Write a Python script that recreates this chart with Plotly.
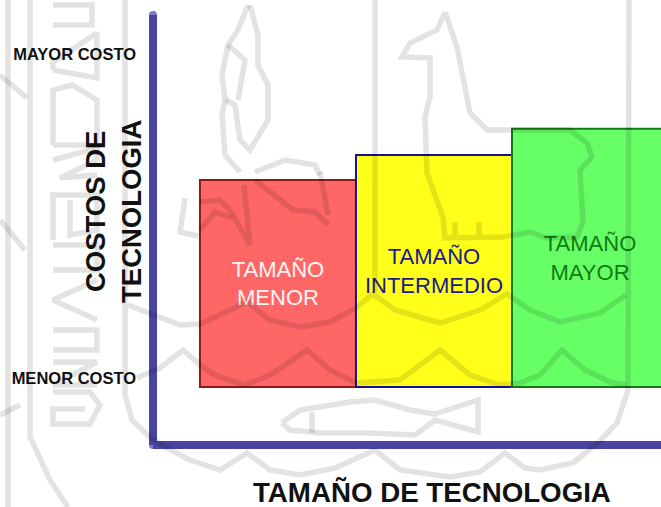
import plotly.graph_objects as go

# bars
bar_pos = [1, 2, 3]
bar_base = [-0.028, -0.028, -0.028]
bar_top = [0.611, 0.688, 0.769]
bar_labels = ["TAMAÑO<br>MENOR", "TAMAÑO<br>INTERMEDIO", "TAMAÑO<br>MAYOR"]
bar_colors = ["#ff6666", "#ffff19", "#66ff66"]
bar_edges = ["#8c1a1a", "#14148c", "#157a15"]
label_colors = ["#fff5f5", "#1a1a8c", "#127a12"]

cost_ticks = [0, 1]
cost_labels = ["MENOR COSTO", "MAYOR COSTO"]

# axis arms, in page pixels (overlay axes)
arm_x = [153, 153, None, 153, 661]
arm_y = [15, 445, None, 445, 445]

# faint crest behind the chart, traced by hand in page pixels
crest = [
    # frame
    [(8, 0), (8, 507)],
    [(30, 0), (30, 437), (50, 480), (68, 507)],
    [(125, 0), (125, 395), (132, 420), (150, 437), (165, 447), (190, 460), (220, 470), (247, 453),
     (270, 470), (300, 475), (335, 468), (375, 450), (400, 470), (450, 477), (480, 472), (505, 453),
     (525, 468), (540, 470), (573, 463), (598, 443), (617, 423), (628, 390), (629, 0)],
    [(375, 0), (375, 292)],
    [(0, 75), (27, 98)],
    [(0, 220), (25, 250)],
    [(0, 415), (20, 405)],
    # waves
    [(128, 305), (150, 313), (180, 325), (200, 324), (225, 312), (247, 302), (270, 320), (300, 327),
     (330, 322), (356, 308), (373, 294), (395, 310), (440, 323), (480, 310), (507, 294), (530, 310),
     (560, 322), (600, 313), (626, 295)],
    [(137, 378), (160, 368), (183, 350), (200, 365), (215, 375), (245, 385), (270, 375), (307, 350),
     (330, 370), (356, 383), (400, 380), (440, 350), (470, 375), (500, 385), (520, 383), (540, 375),
     (562, 350), (585, 370), (610, 382), (626, 385)],
    # fish
    [(282, 423), (300, 410), (350, 402), (375, 400), (410, 410), (435, 414), (478, 400), (478, 432),
     (435, 420), (415, 435), (370, 433), (320, 433), (290, 430), (282, 423)],
    [(312, 412), (312, 433)],
    # plant
    [(248, 5), (238, 30), (228, 45), (222, 75), (225, 100), (222, 115), (225, 155), (240, 172)],
    [(250, 5), (258, 35), (258, 65), (268, 85), (268, 120), (250, 150), (240, 140), (235, 105), (226, 100)],
    [(228, 45), (245, 60), (238, 100)],
    [(200, 202), (220, 200), (230, 210), (250, 245), (244, 185)],
    [(255, 180), (275, 195), (293, 210), (315, 212), (328, 225)],
    [(320, 172), (328, 215)],
    [(200, 230), (215, 212), (232, 218)],
    [(185, 198), (180, 232), (198, 236)],
    [(255, 172), (285, 160), (315, 165), (320, 175)],
    # llama
    [(445, 12), (437, 30), (410, 43), (402, 57), (430, 58), (430, 97), (425, 117), (427, 173), (443, 217),
     (445, 238), (503, 237), (530, 232), (547, 238), (577, 237), (583, 222), (580, 170), (592, 157),
     (587, 143), (570, 130), (487, 130), (470, 113), (463, 77), (457, 47), (445, 12)],
    [(455, 235), (455, 222)],
    [(479, 235), (479, 222)],
    # letters up the left side
    [(53, 5), (92, 5), (92, 25), (53, 25)],
    [(53, 70), (53, 62), (97, 33), (97, 78), (53, 70)],
    [(53, 145), (53, 90), (72, 85), (97, 100), (97, 145), (53, 145)],
    [(53, 160), (97, 148), (97, 160), (60, 178), (97, 175)],
    [(53, 240), (53, 195), (97, 195), (97, 230), (70, 235), (70, 200)],
    [(53, 270), (97, 270), (97, 245), (53, 245)],
    [(53, 300), (97, 280), (53, 300), (97, 320)],
    [(53, 330), (97, 330), (97, 350), (53, 350)],
    [(53, 362), (97, 362), (53, 385), (97, 385)],
    [(53, 392), (90, 392), (100, 405), (90, 424), (53, 424), (53, 409), (85, 409)],
]

fig_w = 661
fig_h = 507

fig = go.Figure()

fig.add_trace(go.Bar(
    x=bar_pos,
    y=[t - b for t, b in zip(bar_top, bar_base)],
    base=bar_base,
    width=1,
    text=bar_labels,
    textposition="inside",
    insidetextanchor="middle",
    textangle=0,
    textfont=dict(family="Liberation Sans", size=22, color=label_colors),
    marker=dict(color=bar_colors, line=dict(color=bar_edges, width=2)),
    hoverinfo="skip",
))

fig.add_trace(go.Scatter(
    x=arm_x, y=arm_y, xaxis="x2", yaxis="y2",
    mode="lines+markers",
    line=dict(color="#48449f", width=8),
    marker=dict(color="#48449f", size=[8, 8, 0, 0, 0], line=dict(width=0)),
    hoverinfo="skip",
))

for stroke in crest:
    fig.add_trace(go.Scatter(
        x=[p[0] for p in stroke], y=[p[1] for p in stroke], xaxis="x2", yaxis="y2",
        mode="lines",
        line=dict(color="rgba(0,0,0,0.11)", width=5.5),
        hoverinfo="skip",
    ))

fig.update_layout(
    width=fig_w, height=fig_h,
    margin=dict(l=0, r=0, t=0, b=0),
    paper_bgcolor="white",
    plot_bgcolor="rgba(0,0,0,0)",
    showlegend=False,
    xaxis=dict(
        domain=[153 / fig_w, 1],
        range=[0.199, 3.455], visible=False, fixedrange=True,
    ),
    yaxis=dict(
        domain=[(507 - 446) / fig_h, (507 - 15) / fig_h],
        range=[-0.2099, 1.1204],
        tickmode="array",
        tickvals=cost_ticks,
        ticktext=[f"<b>{t}</b>" for t in cost_labels],
        tickfont=dict(family="Liberation Sans", size=16.5, color="#111111"),
        ticks="",
        showgrid=False,
        zeroline=False,
        showline=False,
        ticklabelstandoff=16,
        fixedrange=True,
    ),
    xaxis2=dict(domain=[0, 1], range=[0, 661], anchor="y2", visible=False, fixedrange=True),
    yaxis2=dict(domain=[0, 1], range=[507, 0], anchor="x2", visible=False, fixedrange=True),
    annotations=[
        dict(text="<b>TAMAÑO DE TECNOLOGIA</b>", xref="x2", yref="y2",
             x=432, y=492, xanchor="center", yanchor="middle", showarrow=False,
             font=dict(family="Liberation Sans", size=27.7, color="#111111")),
        dict(text="<b>COSTOS DE<br>TECNOLOGIA</b>", xref="x2", yref="y2",
             x=113, y=212, xanchor="center", yanchor="middle", showarrow=False, textangle=-90,
             font=dict(family="Liberation Sans", size=27.5, color="#111111")),
    ],
)

fig.write_html("out.html", config={"displayModeBar": False},
               post_script="document.body.style.margin = '0';")
